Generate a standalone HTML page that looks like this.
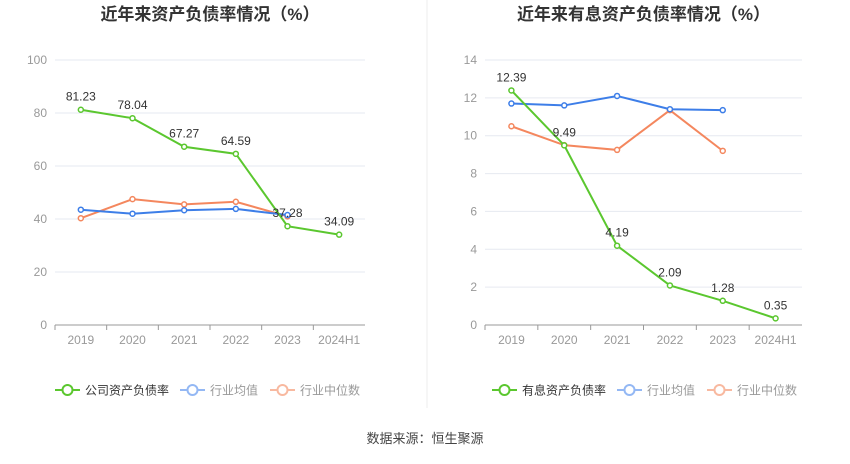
<!DOCTYPE html>
<html><head><meta charset="utf-8">
<style>
html,body{margin:0;padding:0;background:#fff;}
body{width:850px;height:459px;overflow:hidden;font-family:"Liberation Sans","Noto Sans CJK SC",sans-serif;}
svg text{font-family:"Liberation Sans","Noto Sans CJK SC",sans-serif;}
</style></head>
<body>
<svg id="svg" width="850" height="459" xmlns="http://www.w3.org/2000/svg">
<line x1="427" y1="0" x2="427" y2="408" stroke="#eee"/>
<text x="425" y="443" font-size="13" fill="#444" text-anchor="middle">数据来源：恒生聚源</text>
</svg>
<script>
const categories = ["2019","2020","2021","2022","2023","2024H1"];
const leftCompany = [81.23,78.04,67.27,64.59,37.28,34.09];
const leftAvg = [43.5,42,43.3,43.8,41.5];
const leftMedian = [40.3,47.5,45.5,46.5,41];
const leftTicks = [0,20,40,60,80,100];
const rightCompany = [12.39,9.49,4.19,2.09,1.28,0.35];
const rightAvg = [11.7,11.6,12.1,11.4,11.35];
const rightMedian = [10.5,9.5,9.25,11.35,9.2];
const rightTicks = [0,2,4,6,8,10,12,14];

const svg = document.getElementById('svg');
const NS = 'http://www.w3.org/2000/svg';
function mk(tag, attrs, parent){
  const e = document.createElementNS(NS, tag);
  for (const k in attrs) e.setAttribute(k, attrs[k]);
  (parent||svg).appendChild(e);
  return e;
}
function chart(cfg){
  const g = mk('g', {});
  
  
  const x0 = cfg.x0, x1 = cfg.x1, yTop = 60, yBot = 325;
  const max = cfg.ticks[cfg.ticks.length-1];
  const bw = (x1 - x0) / categories.length;
  const xs = i => x0 + bw * (i + 0.5);
  const ys = v => yBot - (v / max) * (yBot - yTop);
  const t = mk('text', {x:(x0+x1)/2, y:20, 'font-size':17, 'font-weight':'bold', fill:'#333', 'text-anchor':'middle'}, g);
  t.textContent = cfg.title;
  
  
  cfg.ticks.forEach(v => {
    const y = ys(v);
    const gl = mk('line', {x1:x0, x2:x1, y1:y, y2:y, stroke: v===0 ? '#999' : '#e6e9f0'}, g);
    
    
    const tl = mk('text', {x:x0-8, y:y+4, 'font-size':12, fill:'#999', 'text-anchor':'end'}, g);
    tl.textContent = v;
    
    
  });
  categories.forEach((c, i) => {
    const tk = mk('line', {x1:x0+bw*i, x2:x0+bw*i, y1:yBot, y2:yBot+5, stroke:'#999'}, g);
    
    
    const xl = mk('text', {x:xs(i), y:yBot+19, 'font-size':12, fill:'#999', 'text-anchor':'middle'}, g);
    xl.textContent = c;
    
    
  });
  const series = [
    {d:cfg.median, color:'#f4875e', name:'median-line'},
    {d:cfg.avg, color:'#3d7ee8', name:'average-line'},
    {d:cfg.company, color:'#5bc72f', name:'company-line', labels:true}
  ];
  series.forEach(s => {
    const pl = mk('polyline', {points: s.d.map((v,i)=>xs(i)+','+ys(v)).join(' '), fill:'none', stroke:s.color, 'stroke-width':2}, g);
    
    
    s.d.forEach((v,i) => {
      const c = mk('circle', {cx:xs(i), cy:ys(v), r:2.5, fill:'#fff', stroke:s.color, 'stroke-width':1.5}, g);
      
      
      if (s.labels) {
        const vl = mk('text', {x:xs(i), y:ys(v)-9, 'font-size':12, fill:'#333', 'text-anchor':'middle'}, g);
        vl.textContent = v.toFixed(2);
        
        
      }
    });
  });
  const lx = cfg.legendX;
  const items = [
    {label:cfg.legend, color:'#5bc72f', txt:'#333', w:125},
    {label:'行业均值', color:'#94b8f4', txt:'#999', w:90},
    {label:'行业中位数', color:'#f8b9a0', txt:'#999', w:90}
  ];
  let cx = lx;
  items.forEach(it => {
    const lg = mk('g', {}, g);
    
    
    mk('line', {x1:cx, x2:cx+25, y1:390, y2:390, stroke:it.color, 'stroke-width':2}, lg);
    mk('circle', {cx:cx+12.5, cy:390, r:5, fill:'#fff', stroke:it.color, 'stroke-width':2}, lg);
    const lt = mk('text', {x:cx+30, y:394.5, 'font-size':12, fill:it.txt}, lg);
    lt.textContent = it.label;
    cx += it.w;
  });
}
chart({name:'asset-liability-chart', title:'近年来资产负债率情况（%）', x0:55, x1:365, ticks:leftTicks,
  company:leftCompany, avg:leftAvg, median:leftMedian, legend:'公司资产负债率', legendX:55});
chart({name:'interest-bearing-liability-chart', title:'近年来有息资产负债率情况（%）', x0:485, x1:802, ticks:rightTicks,
  company:rightCompany, avg:rightAvg, median:rightMedian, legend:'有息资产负债率', legendX:492});
</script>
</body></html>
